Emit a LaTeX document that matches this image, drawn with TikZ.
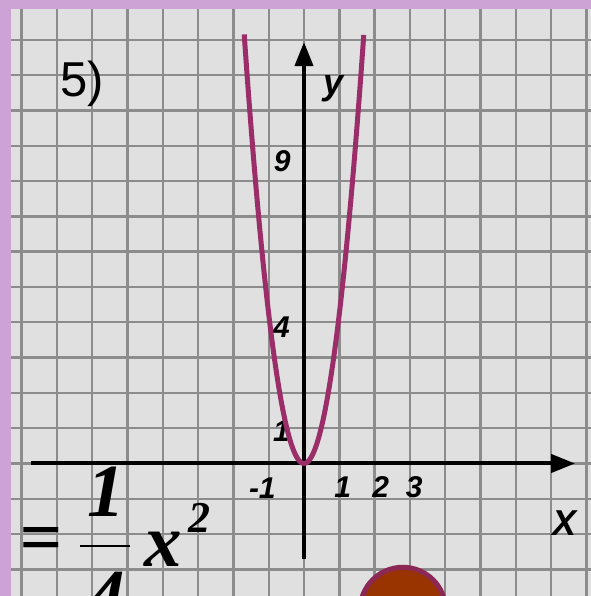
\documentclass[tikz,border=0pt]{standalone}
\usepackage{fontspec}
\setmainfont{Liberation Sans}
\newfontfamily\formulafont{Liberation Serif}
\usepackage{tikz}
\usetikzlibrary{arrows.meta}
\definecolor{paperGray}{RGB}{224,224,224}
\definecolor{gridGray}{RGB}{140,140,140}
\definecolor{frameLilac}{RGB}{205,163,214}
\definecolor{curvePlum}{RGB}{155,45,105}
\definecolor{ballRust}{RGB}{153,51,0}
\definecolor{ballRim}{RGB}{140,40,85}

\begin{document}
\begin{tikzpicture}[x=35.3pt, y=35.3pt,
  gridline/.style={draw=gridGray, line width=2.4pt},
  axis/.style={line width=4pt, -{Triangle[length=24pt, width=18pt]}},
  curve/.style={draw=curvePlum, line width=5pt},
  tick/.style={inner sep=0pt, font=\fontsize{30}{30}\selectfont\bfseries\itshape},
  axlabel/.style={inner sep=0pt, font=\fontsize{36}{36}\selectfont\bfseries\itshape},
  formula/.style={inner sep=0pt, font=\fontsize{75}{75}\selectfont\formulafont\bfseries\itshape},
]
  % Sheet
  \useasboundingbox (-8.612,-3.754) rectangle (8.130,13.130);
  \clip (-8.612,-3.754) rectangle (8.130,13.130);
  \fill[paperGray] (-8.612,-3.754) rectangle (8.130,13.130);
  \draw[gridline] (-8.7,-3.8) grid[step=1] (8.2,13.2);
  \fill[frameLilac] (-8.612,-3.754) rectangle (-8.30,13.130);
  \fill[frameLilac] (-8.612,12.875) rectangle (8.130,13.130);

  % Axes
  \coordinate (xa) at (-7.73,0);
  \coordinate (xb) at (7.68,0);
  \coordinate (ya) at (0,-2.70);
  \coordinate (yb) at (0,11.94);
  \draw[axis] (xa) -- (xb);
  \draw[axis] (ya) -- (yb);
  \node[axlabel] (ylab) at (0.85,10.61) {y};
  \node[axlabel] (xlab) at (7.39,-1.70) {X};

  % Task number
  \node[inner sep=0pt, font=\fontsize{49}{49}\selectfont] (num5) at (-6.28,10.76) {5)};

  % Tick labels
  \node[tick] (t9) at (-0.62,8.57) {9};
  \node[tick] (t4) at (-0.64,3.85) {4};
  \node[tick] (t1) at (-0.64,0.92) {1};
  \node[tick] (tm1) at (-1.18,-0.69) {-1};
  \node[tick] (tx1) at (1.10,-0.67) {1};
  \node[tick] (tx2) at (2.17,-0.67) {2};
  \node[tick] (tx3) at (3.12,-0.67) {3};

  % Parabola
  \draw[curve] plot[domain=-1.694:1.694, samples=90, smooth] (\x,{4.236*\x*\x});

  % Formula
  \node[formula] (eq) at (-7.45,-2.32) {=};
  \node[formula] (num) at (-5.61,-0.81) {1};
  \coordinate (barL) at (-6.35,-2.34);
  \coordinate (barR) at (-4.93,-2.34);
  \draw[line width=2.5pt] (barL) -- (barR);
  \node[formula, anchor=north] (den) at (-5.6,-3.07) {4};
  \node[formula] (xvar) at (-3.99,-2.44) {x};
  \node[formula, font=\fontsize{44}{44}\selectfont\formulafont\bfseries\itshape] (pow) at (-2.95,-1.54) {2};

  % Ball
  \fill[ballRust, draw=ballRim, line width=5pt] (2.80,-4.15) circle (1.21);
\end{tikzpicture}
\end{document}
